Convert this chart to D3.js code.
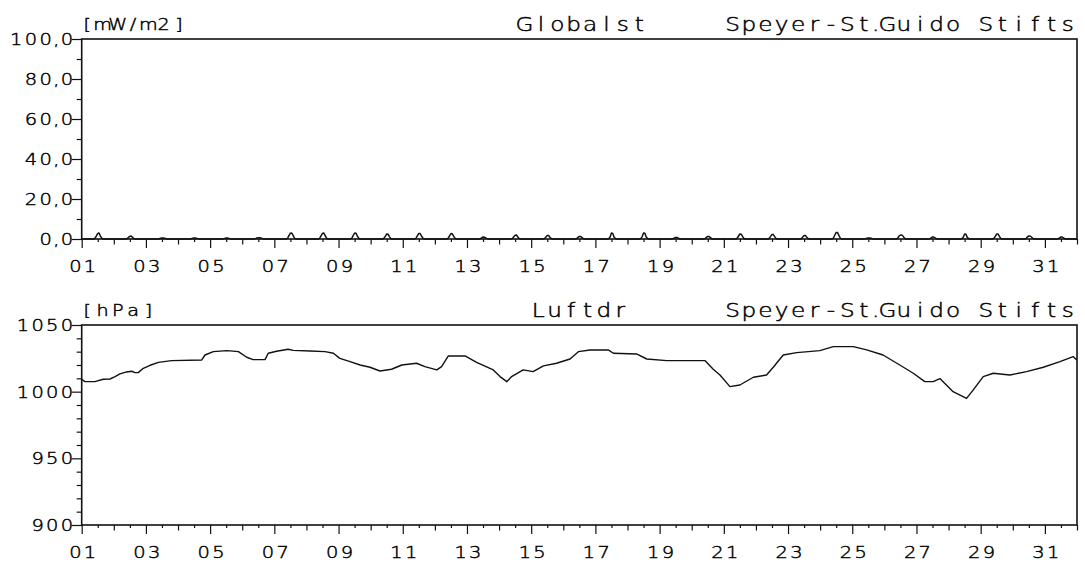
<!DOCTYPE html>
<html>
<head>
<meta charset="utf-8">
<script src="https://cdn.jsdelivr.net/npm/d3@7/dist/d3.min.js"></script>
<style>
  html, body { margin: 0; padding: 0; background: #fff; }
  svg { display: block; }
  text { font-family: "DejaVu Sans", sans-serif; font-weight: 200; fill: #000; stroke: #000; stroke-width: 0.45px; }
</style>
</head>
<body>
<svg id="chart" width="1085" height="566"></svg>
<script>
// ---------- DATA ----------
const station = "Speyer-St.Guido Stifts";
const topTitle = "Globalst";
const topUnit = "[mW/m2]";
const bottomTitle = "Luftdr";
const bottomUnit = "[hPa]";

const dayTicks = [1,3,5,7,9,11,13,15,17,19,21,23,25,27,29,31];
const topYTicks = [0, 20, 40, 60, 80, 100];
const bottomYTicks = [900, 950, 1000, 1050];

// Global radiation: hours of day for the daily profiles
const radHours = [9, 10, 11, 12, 13, 14, 15, 16];
// one profile per day (01..31)
const radProfiles = [
  [0,0.4,1.6,2.8,3.0,1.4,0.4,0],
  [0,0.2,0.8,1.4,1.5,0.8,0.2,0],
  [0,0.1,0.4,0.5,0.5,0.4,0.1,0],
  [0,0.1,0.4,0.5,0.5,0.3,0.1,0],
  [0,0.1,0.3,0.5,0.5,0.3,0.1,0],
  [0,0.2,0.5,0.6,0.6,0.5,0.2,0],
  [0,0.5,1.8,2.9,3.0,1.8,0.5,0],
  [0,0.5,1.7,2.8,3.0,1.7,0.4,0],
  [0,0.5,1.8,3.0,2.9,1.6,0.4,0],
  [0,0.4,1.4,2.5,2.4,1.2,0.3,0],
  [0,0.5,1.7,2.8,2.7,1.5,0.4,0],
  [0,0.5,1.6,2.7,2.6,1.4,0.4,0],
  [0,0.2,0.6,1.0,0.9,0.5,0.2,0],
  [0,0.3,1.1,1.9,2.0,1.0,0.3,0],
  [0,0.3,1.0,1.8,1.7,0.9,0.2,0],
  [0,0.2,0.8,1.3,1.2,0.7,0.2,0],
  [0,0.2,1.0,3.0,2.8,0.9,0.2,0],
  [0,0.3,1.2,3.0,2.9,1.0,0.2,0],
  [0,0.1,0.5,0.8,0.8,0.4,0.1,0],
  [0,0.2,0.8,1.3,1.2,0.7,0.2,0],
  [0,0.4,1.5,2.5,2.4,1.3,0.3,0],
  [0,0.4,1.3,2.3,2.2,1.2,0.3,0],
  [0,0.3,1.0,1.8,1.7,0.9,0.2,0],
  [0,0.6,2.0,3.3,3.2,1.8,0.5,0],
  [0,0.1,0.4,0.5,0.5,0.4,0.1,0],
  [0,0.4,1.5,2.0,2.0,1.4,0.4,0],
  [0,0.2,0.6,1.0,1.0,0.5,0.1,0],
  [0,0.2,0.9,2.5,2.4,0.8,0.2,0],
  [0,0.4,1.4,2.5,2.5,1.3,0.3,0],
  [0,0.3,1.1,1.5,1.5,1.0,0.3,0],
  [0,0.2,0.6,1.0,1.0,0.5,0.1,0]
];

// Air pressure: time (day of month, decimal) and value in hPa
const presTime = [1.00,1.10,1.41,1.67,1.88,2.04,2.19,2.40,2.56,2.66,2.76,2.92,3.13,3.39,3.80,4.74,4.84,5.10,5.52,5.88,
  6.14,6.34,6.71,6.81,7.07,7.43,7.59,8.11,8.58,8.84,9.04,9.36,9.67,9.98,10.29,10.65,10.97,11.43,11.69,12.06,
  12.21,12.42,12.94,13.30,13.82,14.03,14.24,14.39,14.75,15.06,15.38,15.79,16.21,16.47,16.83,17.40,17.56,18.28,18.60,19.22,
  19.84,20.41,20.67,20.88,21.19,21.50,21.92,22.33,22.54,22.85,23.27,23.99,24.41,25.03,25.45,25.96,26.48,26.90,27.26,27.52,
  27.73,28.14,28.56,28.77,29.08,29.39,29.91,30.43,30.95,31.47,31.88,31.99];
const presValue = [1009.3,1007.5,1007.5,1009.3,1009.5,1011.3,1013.3,1014.8,1015.3,1014.3,1014.3,1017.5,1019.8,1022.0,1023.3,1023.8,1027.5,1030.0,1030.8,1030.0,
  1025.8,1024.0,1024.0,1028.8,1030.3,1031.8,1031.0,1030.5,1030.0,1028.8,1025.0,1022.5,1020.0,1018.3,1015.5,1016.8,1020.0,1021.3,1018.8,1016.3,
  1018.8,1026.8,1026.8,1022.0,1016.3,1011.3,1007.5,1011.3,1016.3,1015.0,1019.3,1021.3,1024.5,1030.0,1031.3,1031.3,1028.8,1028.3,1024.5,1023.3,
  1023.3,1023.3,1016.8,1012.5,1003.8,1005.0,1010.8,1012.5,1018.3,1027.5,1029.3,1030.8,1033.8,1033.8,1031.3,1027.5,1020.0,1013.8,1007.5,1007.5,
  1009.8,1000.0,995.0,1001.3,1011.3,1013.8,1012.5,1015.0,1018.3,1022.5,1026.3,1023.8];

// ---------- HELPERS ----------
const svg = d3.select("#chart");
const narrow = ".,:";
// plotter-style text: one <text>, each glyph centred in its own cell
function plotText(parent, str, o) {
  const chars = Array.from(str);
  const w = chars.map(c => narrow.includes(c) ? 0.45 : 1);
  const pos = [0];
  for (let i = 1; i < chars.length; i++) pos.push(pos[i - 1] + o.adv * (w[i - 1] + w[i]) / 2);
  let shift;
  if (o.align === "end") shift = o.at - pos[pos.length - 1];
  else if (o.align === "middle") shift = o.at - pos[pos.length - 1] / 2;
  else shift = o.at;
  const sx = o.sx || 1;
  return parent.append("text")
    .attr("transform", `scale(${sx},1)`)
    .attr("x", pos.map(p => ((p + shift) / sx).toFixed(2)).join(" "))
    .attr("y", o.y)
    .attr("text-anchor", "middle")
    .attr("font-size", o.size)
    .text(str);
}

// ---------- LAYOUT ----------
const left = 81.7, right = 1077;
const panels = [
  { top: 39, bottom: 239, domain: [0, 100], majors: topYTicks, minorStep: 10,
    fmt: v => d3.format(".1f")(v).replace(".", ","), unit: topUnit, title: topTitle, titleX: 524.5 },
  { top: 325, bottom: 525, domain: [900, 1050], majors: bottomYTicks, minorStep: 10,
    fmt: v => d3.format("d")(v), unit: bottomUnit, title: bottomTitle, titleX: 538.3 }
];

const x = d3.scaleLinear().domain([1, 32]).range([left, right]);
const ink = "#111";
const labelSize = 16.5, labelAdv = 14.7, labelSx = 1.18;

panels.forEach((p, i) => {
  const y = d3.scaleLinear().domain(p.domain).range([p.bottom, p.top]);
  p.y = y;
  const g = svg.append("g");

  // minor y ticks
  const minors = d3.range(p.domain[0], p.domain[1] + 0.001, p.minorStep).filter(v => !p.majors.includes(v));
  g.append("g").attr("transform", `translate(${left},0)`)
    .call(d3.axisLeft(y).tickValues(minors).tickSize(5).tickFormat(""))
    .call(a => a.select(".domain").remove())
    .call(a => a.selectAll("line").attr("stroke", ink).attr("stroke-width", 1.2));

  // major y ticks
  g.append("g").attr("transform", `translate(${left},0)`)
    .call(d3.axisLeft(y).tickValues(p.majors).tickSize(10).tickFormat(""))
    .call(a => a.select(".domain").remove())
    .call(a => a.selectAll("line").attr("stroke", ink).attr("stroke-width", 1.2));
  // y labels
  p.majors.forEach(v => plotText(g, p.fmt(v), {
    align: "end", at: left - 14.7, y: y(v) + 6, adv: labelAdv, size: labelSize, sx: labelSx }));

  // x ticks: half-day, even-day, odd-day
  const halfDays = d3.range(1.5, 32, 1);
  const evenDays = d3.range(2, 33, 2);
  [[halfDays, 3], [evenDays, 5.5], [dayTicks, 9]].forEach(([vals, size]) => {
    g.append("g").attr("transform", `translate(0,${p.bottom})`)
      .call(d3.axisBottom(x).tickValues(vals).tickSize(size).tickFormat(""))
      .call(a => a.select(".domain").remove())
      .call(a => a.selectAll("line").attr("stroke", ink).attr("stroke-width", 1.2));
  });
  const dfmt = d3.format("02d");
  dayTicks.forEach(d => plotText(g, dfmt(d), {
    align: "middle", at: x(d) + 1, y: p.bottom + 33, adv: labelAdv, size: labelSize, sx: labelSx }));

  // frame
  g.append("rect")
    .attr("x", left).attr("y", p.top)
    .attr("width", right - left).attr("height", p.bottom - p.top)
    .attr("fill", "none").attr("stroke", ink).attr("stroke-width", 1.6);

  // unit label
  plotText(g, p.unit, { align: "start", at: left + 5.5, y: p.top - 9, adv: 15.3, size: 16, sx: 1.2 });

  // titles
  plotText(g, p.title, { align: "start", at: p.titleX, y: p.top - 7.5, adv: 16.4, size: 19, sx: 1.22 });
  plotText(g, station, { align: "start", at: 732.5, y: p.top - 7.5, adv: 16.4, size: 19, sx: 1.22 });
});

// ---------- SERIES ----------
const radPoints = [[1, 0]];
radProfiles.forEach((prof, di) => {
  prof.forEach((v, hi) => radPoints.push([di + 1 + radHours[hi] / 24, v]));
});
radPoints.push([32, 0]);

const yTop = panels[0].y, yBot = panels[1].y;
svg.append("path")
  .datum(radPoints)
  .attr("fill", "none").attr("stroke", ink).attr("stroke-width", 1.5)
  .attr("stroke-linejoin", "round")
  .attr("d", d3.line().x(d => x(d[0])).y(d => yTop(d[1])));

const presPoints = presTime.map((t, k) => [t, presValue[k]]);
svg.append("path")
  .datum(presPoints)
  .attr("fill", "none").attr("stroke", ink).attr("stroke-width", 1.4)
  .attr("stroke-linejoin", "round")
  .attr("d", d3.line().x(d => x(d[0])).y(d => yBot(d[1])));
</script>
</body>
</html>
